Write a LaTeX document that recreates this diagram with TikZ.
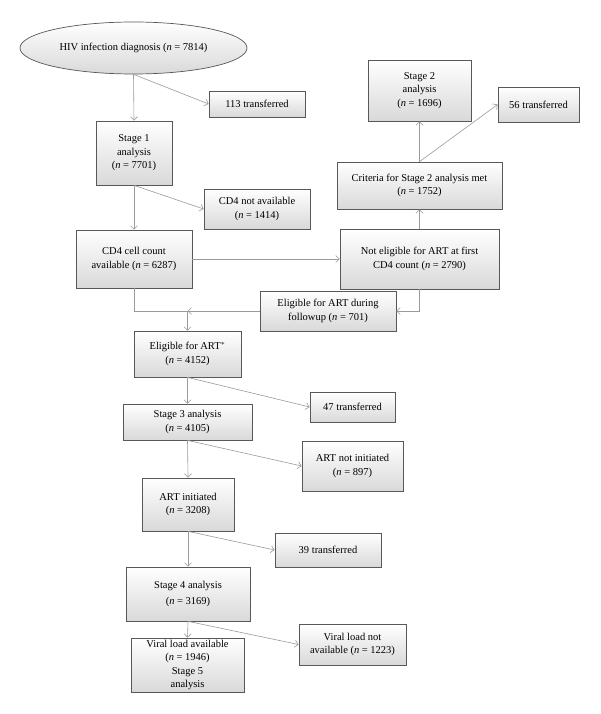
\documentclass[tikz,border=0pt]{standalone}
\usepackage{fontspec}
\setmainfont{Liberation Serif}
\usepackage{tikz}
\usetikzlibrary{positioning,arrows.meta,shapes.geometric}
\usepackage{xcolor}
\definecolor{flowline}{HTML}{9a9a9a}
\definecolor{flowedge}{HTML}{585858}

\begin{document}
\begin{tikzpicture}[x=1pt, y=-1pt,
    block/.style={draw=flowedge, top color=white, bottom color=gray!30, inner sep=1pt, align=center, line width=0.7pt, font=\fontsize{10.5}{13.5}\selectfont},
    arrow/.style={-{Straight Barb[length=3.5pt,width=7pt]}, flowline, line width=0.6pt},
    link/.style={flowline, line width=0.6pt},
]
\fill[white] (0,0) rectangle (600,714);
\useasboundingbox (0,0) rectangle (600,714);

% left column
\node[block, ellipse, minimum width=227pt, minimum height=52pt] (diag) at (133.5,48) {HIV infection diagnosis (\textit{n} = 7814)};
\node[block, minimum width=76pt, minimum height=64pt] (st1) at (134,153) {Stage 1\\analysis\\(\textit{n} = 7701)};
\node[block, minimum width=116pt, minimum height=58pt] (cd4) at (134,259) {CD4 cell count\\available (\textit{n} = 6287)};
\node[block, minimum width=107pt, minimum height=46pt] (elig) at (187.5,354) {Eligible for ART$^*$\\(\textit{n} = 4152)};
\node[block, minimum width=129pt, minimum height=36pt] (st3) at (187.5,422) {Stage 3 analysis\\(\textit{n} = 4105)};
\node[block, minimum width=92pt, minimum height=53pt] (arti) at (188,504.5) {ART initiated\\(\textit{n} = 3208)};
\node[block, minimum width=124pt, minimum height=54pt] (st4) at (188,594) {Stage 4 analysis\\[3pt](\textit{n} = 3169)};
\node[block, minimum width=113pt, minimum height=54pt] (vla) at (187.5,665) {Viral load available\\(\textit{n} = 1946)\\Stage 5\\analysis};

% losses
\node[block, minimum width=96pt, minimum height=26pt] (trA) at (257,104) {113 transferred};
\node[block, minimum width=106pt, minimum height=40pt] (cdna) at (257,209) {CD4 not available\\(\textit{n} = 1414)};
\node[block, minimum width=85pt, minimum height=30pt] (trC) at (352.5,407) {47 transferred};
\node[block, minimum width=101pt, minimum height=50pt] (artno) at (352.5,466) {ART not initiated\\(\textit{n} = 897)};
\node[block, minimum width=106pt, minimum height=34pt] (trD) at (328,550) {39 transferred};
\node[block, minimum width=107pt, minimum height=41pt] (vlna) at (352.5,644.5) {Viral load not\\available (\textit{n} = 1223)};

% right column
\node[block, minimum width=159pt, minimum height=60pt] (notel) at (419.5,259) {Not eligible for ART at first\\CD4 count (\textit{n} = 2790)};
\node[block, minimum width=165pt, minimum height=47pt] (crit) at (419.5,185.5) {Criteria for Stage 2 analysis met\\(\textit{n} = 1752)};
\node[block, minimum width=103pt, minimum height=61pt] (st2) at (419.5,90.5) {Stage 2\\analysis\\(\textit{n} = 1696)};
\node[block, minimum width=81pt, minimum height=35pt] (trB) at (538.5,104.5) {56 transferred};
\node[block, minimum width=136pt, minimum height=40pt] (fup) at (328,311) {Eligible for ART during\\followup (\textit{n} = 701)};

% connectors
\draw[arrow] (diag.south) -- (st1.north);
\draw[arrow] (diag.south) -- (trA.west);
\draw[arrow] (st1.south) -- (cd4.north);
\draw[arrow] (st1.south) -- (cdna.west);
\draw[arrow] (cd4.east) -- (notel.west);
\draw[arrow] (notel.north) -- (crit.south);
\draw[arrow] (crit.north) -- (st2.south);
\draw[arrow] (crit.north) -- (trB.west);
\draw[arrow] (notel.south) |- (fup.east);
\coordinate (mrg) at (elig.north |- fup.west);
\draw[link] (cd4.south) |- (mrg);
\draw[arrow] (fup.west) -- (mrg);
\draw[arrow] (mrg) -- (elig.north);
\draw[arrow] (elig.south) -- (st3.north);
\draw[arrow] (elig.south) -- (trC.west);
\draw[arrow] (st3.south) -- (arti.north);
\draw[arrow] (st3.south) -- (artno.west);
\draw[arrow] (arti.south) -- (st4.north);
\draw[arrow] (arti.south) -- (trD.west);
\draw[arrow] (st4.south) -- (vla.north);
\draw[arrow] (st4.south) -- (vlna.west);
\end{tikzpicture}
\end{document}
